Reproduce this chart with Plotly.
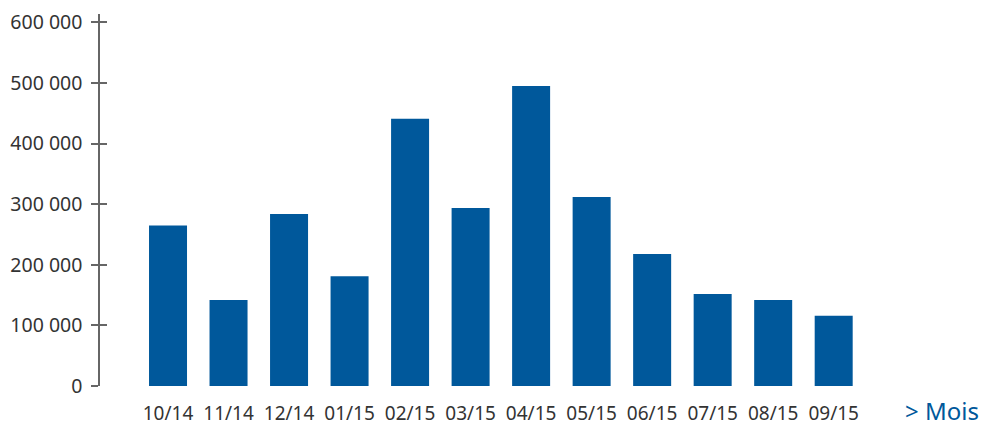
import plotly.graph_objects as go

months = ["10/14", "11/14", "12/14", "01/15", "02/15", "03/15",
          "04/15", "05/15", "06/15", "07/15", "08/15", "09/15"]
values = [265000, 142000, 284000, 181000, 441000, 294000,
          495000, 312000, 218000, 152000, 142000, 116000]
y_ticks = [0, 100000, 200000, 300000, 400000, 500000, 600000]
y_labels = ["0", "100 000", "200 000", "300 000", "400 000", "500 000", "600 000"]

BLUE = "#00589B"
AXIS = "#666666"
TEXT = "#333333"
FONT = "Noto Sans"

fig = go.Figure()
fig.add_trace(go.Bar(x=list(range(len(months))), y=values,
                     marker=dict(color=BLUE, line=dict(width=0)),
                     hoverinfo="skip"))

yr = [0, 614000]
fig.update_layout(
    width=984, height=420,
    margin=dict(l=92, r=122, t=6, b=42, autoexpand=False),
    paper_bgcolor="white", plot_bgcolor="white",
    showlegend=False, bargap=0.372,
    font=dict(family=FONT, color=TEXT),
    xaxis=dict(range=[-1.124, 11.6], tickmode="array", automargin=False,
               tickvals=list(range(len(months))), ticktext=months,
               showgrid=False, zeroline=False, showline=False, ticks="",
               tickfont=dict(size=19, color=TEXT, family=FONT),
               ticklabelstandoff=14),
    yaxis=dict(range=yr, tickmode="array", tickvals=y_ticks, ticktext=y_labels,
               automargin=False,
               showgrid=False, zeroline=False, showline=True,
               linecolor=AXIS, linewidth=1.5,
               ticks="outside", ticklen=7, tickwidth=1.5, tickcolor=AXIS,
               tickfont=dict(size=19.5, color=TEXT, family=FONT),
               ticklabelstandoff=5),
    yaxis2=dict(range=yr, overlaying="y", side="left", tickmode="array",
                automargin=False,
                tickvals=y_ticks, showticklabels=False, showgrid=False,
                zeroline=False, showline=False, ticks="inside", ticklen=7,
                tickwidth=1.5, tickcolor=AXIS),
)
fig.add_trace(go.Scatter(x=[None], y=[None], yaxis="y2", showlegend=False))

fig.add_annotation(text="&gt; Mois", xref="paper", yref="paper",
                   x=1.0, y=0, xanchor="left", yanchor="middle",
                   xshift=33, yshift=-24, showarrow=False,
                   font=dict(size=24, color=BLUE, family=FONT))

fig.write_html("out.html")
